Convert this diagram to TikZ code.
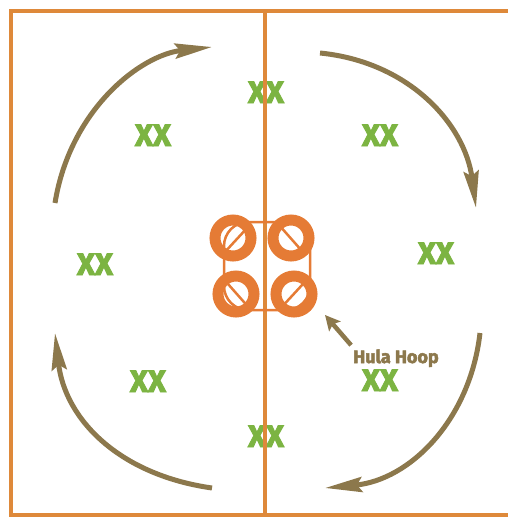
\documentclass[tikz,border=0pt]{standalone}
\usepackage{fontspec}
\setmainfont{Fira Sans}
\newfontfamily\heavyfont{Fira Sans}[BoldFeatures={FakeBold=3}]
\usepackage{xcolor}
\usepackage{tikz}
\usetikzlibrary{arrows.meta, positioning}

\definecolor{fieldorange}{HTML}{DE893A}
\definecolor{hooporange}{HTML}{E57B35}
\definecolor{runbrown}{HTML}{8C784C}
\definecolor{xxgreen}{HTML}{7CB442}

\begin{document}
\begin{tikzpicture}[x=1pt, y=-1pt,
    xx/.style={text=xxgreen, font=\fontsize{31}{31}\heavyfont\bfseries, inner sep=0pt, anchor=base},
    hoop/.style={draw=hooporange, line width=11pt},
    rope/.style={draw=hooporange, line width=2.5pt},
    run/.style={draw=runbrown, line width=5pt, -{Stealth[length=37pt, width=15pt, inset=5pt]}}]
    \useasboundingbox (0,0) rectangle (508,517);

    % Vẽ khung sân
    \draw[fieldorange, line width=4pt] (508,11) -- (11,11) -- (11,515) -- (508,515);

    % Các nhóm XX
    \node[xx] (xtl) at (153,146) {XX};
    \node[xx] (xtm) at (266,103) {XX};
    \node[xx] (xtr) at (380,146) {XX};
    \node[xx] (xml) at (95,275) {XX};
    \node[xx] (xmr) at (436,264) {XX};
    \node[xx] (xbl) at (148,392) {XX};
    \node[xx] (xbr) at (380,391) {XX};
    \node[xx] (xbm) at (266,447) {XX};

    % Đường giữa sân
    \draw[fieldorange, line width=3.5pt] (265,11) -- (265,515);

    % Bốn vòng Hula Hoop
    \coordinate (h1) at (233,238);
    \coordinate (h2) at (291,238);
    \coordinate (h3) at (236,294);
    \coordinate (h4) at (294,294);
    \draw[rope, rounded corners=24pt] (224,222) rectangle (310,310);
    \draw[rope] (224,253) -- (248,227);
    \draw[rope] (279,225) -- (302,251);
    \draw[rope] (228,284) -- (251,310);
    \draw[rope] (279,310) -- (303,284);
    \foreach \h in {h1,h2,h3,h4}
        \draw[hoop] (\h) circle[radius=18];

    % Mũi tên chạy vòng
    \coordinate (a1) at (55,203);
    \coordinate (a2) at (212,47);
    \coordinate (b1) at (320,53);
    \coordinate (b2) at (476,208);
    \coordinate (c1) at (480,333);
    \coordinate (c2) at (325,488);
    \coordinate (d1) at (212,488);
    \coordinate (d2) at (55,333);
    \draw[run] (a1) .. controls (70,110) and (140,55) .. (a2);
    \draw[run] (b1) .. controls (410,62) and (465,125) .. (b2);
    \draw[run] (c1) .. controls (470,420) and (410,480) .. (c2);
    \draw[run] (d1) .. controls (120,475) and (65,420) .. (d2);

    % Chú thích
    \node[text=runbrown, font=\fontsize{18}{18}\heavyfont\bfseries, inner sep=0pt, anchor=base] (hula) at (396,363) {Hula Hoop};
    \coordinate (tip) at (325,315);
    \draw[runbrown, line width=4.5pt, -{Stealth[length=15pt, width=15pt, inset=3pt]}] (hula.north west) ++(-2,-4) -- (tip);
\end{tikzpicture}
\end{document}
